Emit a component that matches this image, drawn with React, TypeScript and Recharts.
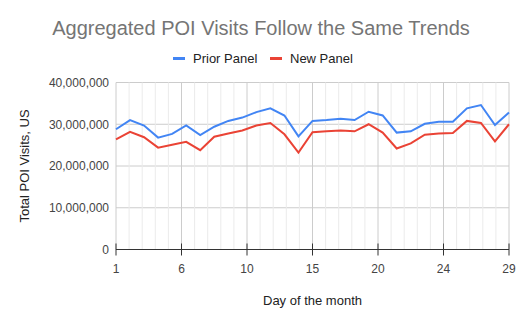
import React from 'react';
import { LineChart, Line, XAxis, YAxis, CartesianGrid, ReferenceLine } from 'recharts';

const days = [1, 2, 3, 4, 5, 6, 7, 8, 9, 10, 11, 12, 13, 14, 15, 16, 17, 18, 19, 20, 21, 22, 23, 24, 25, 26, 27, 28, 29];
const priorPanel = [28800000, 31000000, 29700000, 26800000, 27700000, 29700000, 27400000, 29400000, 30800000, 31600000, 32900000, 33800000, 32100000, 27100000, 30800000, 31000000, 31300000, 31000000, 33000000, 32100000, 28000000, 28300000, 30100000, 30600000, 30600000, 33800000, 34600000, 29800000, 32800000];
const newPanel = [26400000, 28200000, 26900000, 24400000, 25100000, 25800000, 23800000, 27000000, 27800000, 28500000, 29700000, 30300000, 27600000, 23200000, 28100000, 28300000, 28500000, 28300000, 30000000, 28000000, 24200000, 25400000, 27500000, 27800000, 27900000, 30800000, 30300000, 25900000, 30000000];
const xTicks = [1, 17 / 3, 31 / 3, 15, 59 / 3, 73 / 3, 29];
const yTicks = [0, 10000000, 20000000, 30000000, 40000000];
const minorGrid = Array.from({ length: 31 }, (_, k) => 1 + (k * 28) / 30).filter((_, k) => k % 5 !== 0);

const data = days.map((d, i) => ({ day: d, prior: priorPanel[i], next: newPanel[i] }));

const FONT = '"Liberation Sans", Arial, sans-serif';

const XTick = (props: any) => {
  const { x, y, payload } = props;
  return (
    <g>
      <line x1={x} x2={x} y1={y - 6} y2={y + 6} stroke="#333" strokeWidth={1} />
      <text x={x} y={y + 23} textAnchor="middle" fontSize={12} fill="#444" fontFamily={FONT}>
        {Math.round(payload.value)}
      </text>
    </g>
  );
};

export default function App() {
  return (
    <div style={{ position: 'absolute', left: 0, top: 0, width: 525, height: 324, background: '#fff', fontFamily: FONT }}>
      <LineChart
        width={525}
        height={324}
        data={data}
        margin={{ top: 82.5, right: 16, bottom: 44.5, left: 16 }}
      >
        {minorGrid.map((v) => (
          <ReferenceLine key={v} x={v} stroke="#ebebeb" strokeWidth={1} />
        ))}
        <CartesianGrid stroke="#cccccc" strokeDasharray="" />
        <XAxis
          dataKey="day"
          type="number"
          domain={[1, 29]}
          ticks={xTicks}
          interval={0}
          height={30}
          tickSize={0}
          tickMargin={0}
          tickLine={false}
          tick={<XTick />}
          axisLine={{ stroke: '#333', strokeWidth: 1 }}
        />
        <YAxis
          type="number"
          domain={[0, 40000000]}
          ticks={yTicks}
          interval={0}
          width={100}
          axisLine={false}
          tickLine={false}
          tickSize={0}
          tickMargin={7}
          tick={{ fontSize: 12, fill: '#444', fontFamily: FONT }}
          tickFormatter={(v: number) => v.toLocaleString('en-US')}
        />
        <Line type="linear" dataKey="prior" stroke="#4285F4" strokeWidth={2} dot={false} isAnimationActive={false} />
        <Line type="linear" dataKey="next" stroke="#EA4335" strokeWidth={2} dot={false} isAnimationActive={false} />
      </LineChart>
      <svg width={525} height={324} style={{ position: 'absolute', left: 0, top: 0, pointerEvents: 'none' }}>
        <text x={261} y={35} textAnchor="middle" fontSize={20} fill="#757575" fontFamily={FONT}>
          Aggregated POI Visits Follow the Same Trends
        </text>
        <rect x={173} y={57} width={12} height={3} fill="#4285F4" />
        <text x={193} y={62.5} fontSize={13} fill="#222" fontFamily={FONT}>Prior Panel</text>
        <rect x={270} y={57} width={12} height={3} fill="#EA4335" />
        <text x={290} y={62.5} fontSize={13} fill="#222" fontFamily={FONT}>New Panel</text>
        <text x={312.5} y={305} textAnchor="middle" fontSize={13} fill="#222" fontFamily={FONT}>Day of the month</text>
        <text x={0} y={0} transform="translate(29,166) rotate(-90)" textAnchor="middle" fontSize={13} fill="#222" fontFamily={FONT}>
          Total POI Visits, US
        </text>
      </svg>
    </div>
  );
}
